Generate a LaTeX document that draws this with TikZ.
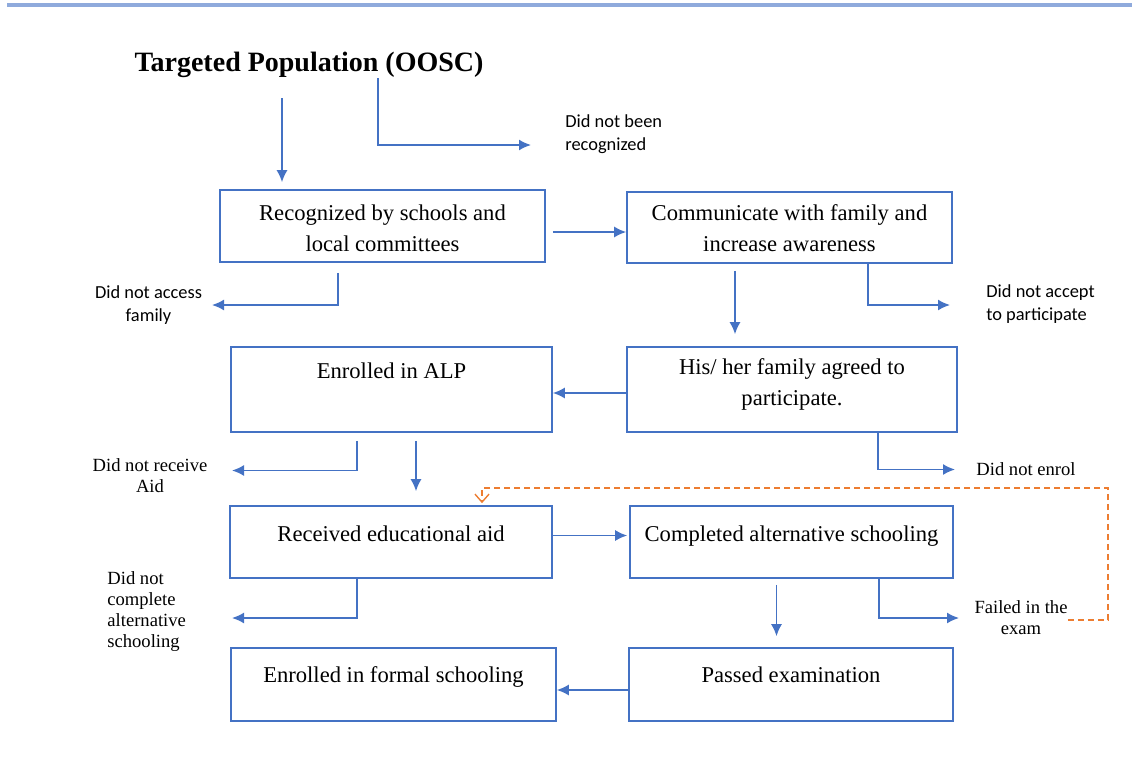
\documentclass[tikz,border=0pt]{standalone}
\usepackage{fontspec}
\setmainfont{Liberation Serif}
\newfontfamily\calibri{Carlito}
\usetikzlibrary{arrows.meta}
\definecolor{azul}{RGB}{68,114,196}
\definecolor{azulclaro}{RGB}{143,170,220}
\definecolor{laranja}{RGB}{237,125,49}
\tikzset{
  caixa/.style={draw=azul, line width=0.8pt, inner sep=0pt},
  texto/.style={anchor=north, inner sep=0pt, align=center, font=\fontsize{11.3}{15.5}\selectfont},
  rotulo/.style={inner sep=0pt, align=center, font=\fontsize{9.3}{10.5}\selectfont},
  rotulocal/.style={inner sep=0pt, align=left, font=\calibri\fontsize{9.2}{11.5}\selectfont},
  seta/.style={draw=azul, line width=0.8pt, -{Latex[length=6pt,width=5.5pt]}},
  volta/.style={draw=laranja, line width=0.7pt, dash pattern=on 3pt off 2pt, -{Straight Barb[length=4pt,width=7pt]}},
}

\begin{document}
\begin{tikzpicture}[x=0.5pt, y=-0.5pt]
			\useasboundingbox (0,0) rectangle (1132,782);
			% linha do topo
			\draw[azulclaro, line width=1.8pt] (7,5) -- (1132,5);
			% titulo
			\node[font=\bfseries\fontsize{14}{16}\selectfont, inner sep=0pt] (titulo) at (309,65) {Targeted Population (OOSC)};
			% caixas
			\foreach \nome/\x/\y/\w/\h in {rec/382.5/226/162.5/36, comun/789.5/227.5/162.5/35.5,
					alp/391.5/389.5/160.5/42.5, fam/792/389.5/165/42.5,
					aux/391/542/161/36, alt/791.5/542/161.5/36,
					formal/393.5/684.5/162.5/36.5, exame/791/684.5/162/36.5} {
					\node[caixa, minimum width=\w pt, minimum height=\h pt] (\nome) at (\x,\y) {};
				}
			% textos das caixas
			\node[texto] (rec-t) at ([yshift=-7.6pt]rec.north) {Recognized by schools and\\local committees};
			\node[texto] (comun-t) at ([yshift=-6.7pt]comun.north) {Communicate with family and\\increase awareness};
			\node[texto] (alp-t) at ([yshift=-8.1pt]alp.north) {Enrolled in ALP};
			\node[texto] (fam-t) at ([yshift=-6.2pt]fam.north) {His/ her family agreed to\\participate.};
			\node[texto] (aux-t) at ([yshift=-10.1pt]aux.north) {Received educational aid};
			\node[texto] (alt-t) at ([yshift=-10pt]alt.north) {Completed alternative schooling};
			\node[texto] (formal-t) at ([yshift=-9.7pt]formal.north) {Enrolled in formal schooling};
			\node[texto] (exame-t) at ([yshift=-9.8pt]exame.north) {Passed examination};
			% rotulos de saida
			\node[rotulocal, anchor=west] (naorec) at (565,134) {Did not been\\recognized};
			\node[rotulocal, align=center] (naoacesso) at (148.5,305) {Did not access\\family};
			\node[rotulocal, anchor=west] (naoaceita) at (986,304) {Did not accept\\to participate};
			\node[rotulo, anchor=west] (naomatr) at (976,469) {Did not enrol};
			\node[rotulo] (naoaux) at (150,476) {Did not receive\\Aid};
			\node[rotulo, anchor=west, align=left] (naocompl) at (107,612) {Did not\\complete\\alternative\\schooling};
			\node[rotulo] (reprov) at (1021,618) {Failed in the\\exam};
			% pontas livres
			\coordinate (naorec-p) at (531,145);
			\coordinate (naoacesso-p) at (212,305);
			\coordinate (naoaceita-p) at (950,305);
			\coordinate (naomatr-p) at (955,469.5);
			\coordinate (naoaux-p) at (232,470.5);
			\coordinate (naocompl-p) at (232,618);
			\coordinate (reprov-p) at (959,618);
			\coordinate (volta-p) at (1108,488);
			% setas principais
			\draw[seta, shorten <=10pt, shorten >=3.5pt] ([xshift=-13.5pt]titulo.south) -- ([xshift=-50.25pt]rec.north);
			\draw[seta, shorten <=3.5pt] ([yshift=-3pt]rec.east) -- ([yshift=-2.25pt]comun.west);
			\draw[seta, shorten <=3.5pt, shorten >=6pt] ([xshift=-27.25pt]comun.south) -- ([xshift=-28.5pt]fam.north);
			\draw[seta] ([yshift=-1.75pt]fam.west) -- ([yshift=-1.75pt]alp.east);
			\draw[seta, shorten <=4pt, shorten >=7pt] ([xshift=12.25pt]alp.south) -- ([xshift=12.5pt]aux.north);
			\draw[seta, shorten >=1pt] ([yshift=3.25pt]aux.east) -- ([yshift=3.25pt]alt.west);
			\draw[seta, shorten <=3pt, shorten >=5.5pt] ([xshift=-7.5pt]alt.south) -- ([xshift=-7.25pt]exame.north);
			\draw[seta] ([yshift=-2.75pt]exame.west) -- ([yshift=-2.75pt]formal.east);
			% setas de saida
			\draw[seta] ([xshift=34.5pt]titulo.south) |- (naorec-p);
			\draw[seta, shorten <=5pt] ([xshift=-22.25pt]rec.south) |- (naoacesso-p);
			\draw[seta] ([xshift=39.25pt]comun.south) |- (naoaceita-p);
			\draw[seta] ([xshift=43pt]fam.south) |- (naomatr-p);
			\draw[seta, shorten <=4pt] ([xshift=-17.25pt]alp.south) |- (naoaux-p);
			\draw[seta] ([xshift=-17pt]aux.south) |- (naocompl-p);
			\draw[seta] ([xshift=43.75pt]alt.south) |- (reprov-p);
			% volta tracejada
			\draw[volta, shorten >=1pt] ([yshift=-1pt]reprov.east) -| (volta-p) -| ([xshift=45.5pt]aux.north);
		\end{tikzpicture}
\end{document}
